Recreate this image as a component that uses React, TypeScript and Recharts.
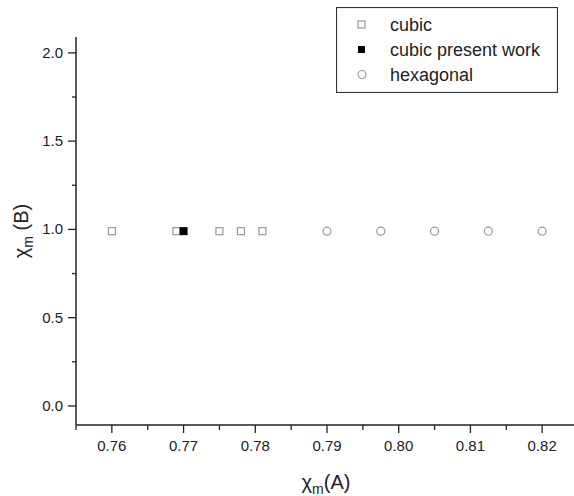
import React from "react";
import {
   Legend,
   Scatter,
   ScatterChart,
   XAxis,
   YAxis,
} from "recharts";

// values
const cubicX = [0.76, 0.769, 0.775, 0.778, 0.781];
const cubicY = [0.99, 0.99, 0.99, 0.99, 0.99];
const presentX = [0.77];
const presentY = [0.99];
const hexX = [0.79, 0.7975, 0.805, 0.8125, 0.82];
const hexY = [0.99, 0.99, 0.99, 0.99, 0.99];

const xMajorTicks = [0.76, 0.77, 0.78, 0.79, 0.8, 0.81, 0.82];
const xMinorTicks = [0.755, 0.765, 0.775, 0.785, 0.795, 0.805, 0.815, 0.825];
const yMajorTicks = [0, 0.5, 1, 1.5, 2];
const yMinorTicks = [0.25, 0.75, 1.25, 1.75];

const legendNames = ["cubic", "cubic present work", "hexagonal"];

const toPoints = (xs: number[], ys: number[]) =>
   xs.map((x, i) => ({ x, y: ys[i] }));

const cubicData = toPoints(cubicX, cubicY);
const presentData = toPoints(presentX, presentY);
const hexData = toPoints(hexX, hexY);

const FONT = "'Liberation Sans', Arial, sans-serif";
const INK = "#222";

const isMajor = (v: number, list: number[]) =>
   list.some((m) => Math.abs(m - v) < 1e-9);

const XTick: React.FC<any> = ({ x, y, payload }) => {
   const major = isMajor(payload.value, xMajorTicks);
   return (
      <g>
         <line x1={x} y1={y} x2={x} y2={y + (major ? 8 : 5)} stroke={INK} strokeWidth={1.3} />
         {major && (
            <text x={x} y={y + 26} textAnchor="middle" fontSize={15} fill={INK} fontFamily={FONT}>
               {payload.value.toFixed(2)}
            </text>
         )}
      </g>
   );
};

const YTick: React.FC<any> = ({ x, y, payload }) => {
   const major = isMajor(payload.value, yMajorTicks);
   return (
      <g>
         <line x1={x} y1={y} x2={x - (major ? 8 : 4)} y2={y} stroke={INK} strokeWidth={1.3} />
         {major && (
            <text x={x - 13} y={y + 5} textAnchor="end" fontSize={15} fill={INK} fontFamily={FONT}>
               {payload.value.toFixed(1)}
            </text>
         )}
      </g>
   );
};

const OpenSquare = (props: any) => (
   <rect x={props.cx - 3.5} y={props.cy - 3.5} width={7} height={7} fill="#fff" stroke="#999" strokeWidth={1.2} />
);

const FilledSquare = (props: any) => (
   <rect x={props.cx - 3.5} y={props.cy - 3.5} width={7} height={7} fill="#000" stroke="#000" strokeWidth={1} />
);

const OpenCircle = (props: any) => (
   <circle cx={props.cx} cy={props.cy} r={4} fill="#fff" stroke="#999" strokeWidth={1.2} />
);

const XLabel: React.FC<any> = ({ viewBox }) => {
   const cx = viewBox.x + viewBox.width / 2;
   return (
      <text x={cx - 1} y={viewBox.y + 64} textAnchor="middle" fill={INK} fontFamily={FONT} fontSize={20}>
         <tspan>χ</tspan>
         <tspan fontSize={14} dy={5}>m</tspan>
         <tspan dy={-5}>(A)</tspan>
      </text>
   );
};

const YLabel: React.FC<any> = ({ viewBox }) => {
   const cy = viewBox.y + viewBox.height / 2;
   const lx = 28;
   return (
      <text
         x={lx}
         y={cy}
         transform={`rotate(-90 ${lx} ${cy})`}
         textAnchor="middle"
         fill={INK}
         fontFamily={FONT}
         fontSize={20}
      >
         <tspan>χ</tspan>
         <tspan fontSize={14} dy={5}>m</tspan>
         <tspan dy={-5}> (B)</tspan>
      </text>
   );
};

const RenderLegend: React.FC<any> = () => {
   const rows = [
      <rect x={22} y={14} width={7} height={7} fill="#fff" stroke="#999" strokeWidth={1.2} />,
      <rect x={22} y={39} width={7} height={7} fill="#000" />,
      <circle cx={26} cy={67.5} r={4} fill="#fff" stroke="#999" strokeWidth={1.2} />,
   ];
   return (
      <svg width={222} height={86} style={{ display: "block" }}>
         <rect x={0.5} y={0.5} width={221} height={85} fill="#fff" stroke="#333" strokeWidth={1.2} />
         {legendNames.map((name, i) => (
            <g key={name}>
               {rows[i]}
               <text x={54} y={24 + i * 25} fontSize={18} fill={INK} fontFamily={FONT}>
                  {name}
               </text>
            </g>
         ))}
      </svg>
   );
};

export default function App() {
   return (
      <div
         style={{
            position: "absolute",
            left: 0,
            top: 0,
            width: 574,
            height: 496,
            overflow: "hidden",
            background: "#fff",
         }}
      >
         <ScatterChart
            width={600}
            height={496}
            margin={{ top: 37, right: 22, bottom: 0, left: 20 }}
         >
            <XAxis
               type="number"
               dataKey="x"
               domain={[0.755, 0.825]}
               ticks={[...xMajorTicks, ...xMinorTicks].sort((a, b) => a - b)}
               interval={0}
               height={71}
               tickSize={0}
               tickMargin={0}
               tickLine={false}
               tick={<XTick />}
               axisLine={{ stroke: INK, strokeWidth: 1.5 }}
               allowDataOverflow
               label={<XLabel />}
            />
            <YAxis
               type="number"
               dataKey="y"
               domain={[-0.108, 2.09]}
               ticks={[...yMajorTicks, ...yMinorTicks].sort((a, b) => a - b)}
               interval={0}
               width={56}
               tickSize={0}
               tickMargin={0}
               tickLine={false}
               tick={<YTick />}
               axisLine={{ stroke: INK, strokeWidth: 1.5 }}
               allowDataOverflow
               label={<YLabel />}
            />
            <Legend
               layout="vertical"
               align="center"
               verticalAlign="middle"
               content={<RenderLegend />}
               wrapperStyle={{ left: 336, top: 7, width: 222, height: 86 }}
            />
            <Scatter name={legendNames[0]} data={cubicData} shape={OpenSquare} isAnimationActive={false} />
            <Scatter name={legendNames[1]} data={presentData} shape={FilledSquare} isAnimationActive={false} />
            <Scatter name={legendNames[2]} data={hexData} shape={OpenCircle} isAnimationActive={false} />
         </ScatterChart>
      </div>
   );
}
